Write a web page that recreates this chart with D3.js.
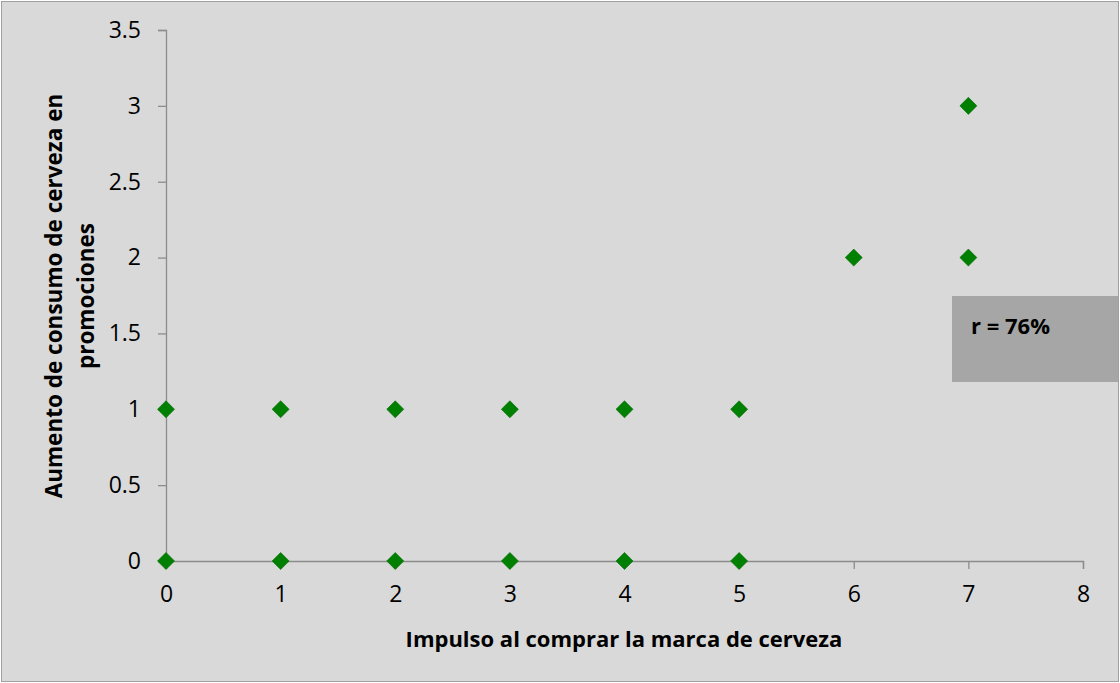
<!DOCTYPE html>
<html><head><meta charset="utf-8">
<script src="https://cdn.jsdelivr.net/npm/d3@7"></script>
<style>body{margin:0;background:#fff}svg{display:block}</style>
</head><body>
<svg id="c" width="1120" height="683"></svg>
<script>
const xValues = [0,1,2,3,4,5,0,1,2,3,4,5,6,7,7];
const yValues = [1,1,1,1,1,1,0,0,0,0,0,0,2,3,2];
const xTicks = [0,1,2,3,4,5,6,7,8];
const yTicks = [0,0.5,1,1.5,2,2.5,3,3.5];
const xTitle = "Impulso al comprar la marca de cerveza";
const yTitleLines = ["Aumento de consumo de cerveza en","promociones"];
const annotation = "r = 76%";

const svg = d3.select("#c");
const font = "Open Sans, Liberation Sans, sans-serif";
svg.append("rect").attr("x",1.5).attr("y",1.5).attr("width",1117).attr("height",680)
  .attr("fill","#d9d9d9").attr("stroke","#a0a0a0").attr("stroke-width",1);

const x = d3.scaleLinear().domain([0,8]).range([166,1083]);
const y = d3.scaleLinear().domain([0,3.5]).range([561,30]);

// annotation box
svg.append("rect").attr("x",952).attr("y",296).attr("width",166).attr("height",86).attr("fill","#a6a6a6");
svg.append("text").attr("x",971).attr("y",334).attr("font-family",font).attr("font-weight","bold")
  .attr("font-size",22).attr("fill","#000").text(annotation);

const gx = svg.append("g").attr("transform","translate(0,561)")
  .call(d3.axisBottom(x).tickValues(xTicks).tickFormat(d3.format("d")).tickSize(8).tickPadding(17));
const gy = svg.append("g").attr("transform","translate(166,0)")
  .call(d3.axisLeft(y).tickValues(yTicks).tickFormat(d=>String(d)).tickSize(8).tickPadding(17));
[gx,gy].forEach(g=>{
  g.select(".domain").attr("stroke","#8c8c8c").attr("stroke-width",1.3);
  g.selectAll(".tick line").attr("stroke","#8c8c8c").attr("stroke-width",1.3);
  g.selectAll("text").attr("font-family",font).attr("font-size",23).attr("fill","#000");
});

const sym = d3.symbol().type(d3.symbolDiamond2).size(185);
svg.append("g").selectAll("path").data(xValues.map((v,i)=>[v,yValues[i]])).join("path")
  .attr("d",sym).attr("transform",d=>`translate(${x(d[0])},${y(d[1])})`)
  .attr("fill","#008000").attr("stroke","#006a00").attr("stroke-width",0.6);

svg.append("text").attr("x",624).attr("y",647).attr("text-anchor","middle")
  .attr("font-family",font).attr("font-weight","bold").attr("font-size",22).text(xTitle);

const yt = svg.append("text").attr("transform","translate(62,296) rotate(-90)").attr("text-anchor","middle")
  .attr("font-family",font).attr("font-weight","bold").attr("font-size",22.5);
yt.append("tspan").attr("x",0).attr("y",0).text(yTitleLines[0]);
yt.append("tspan").attr("x",0).attr("y",31.5).text(yTitleLines[1]);
</script>
</body></html>
